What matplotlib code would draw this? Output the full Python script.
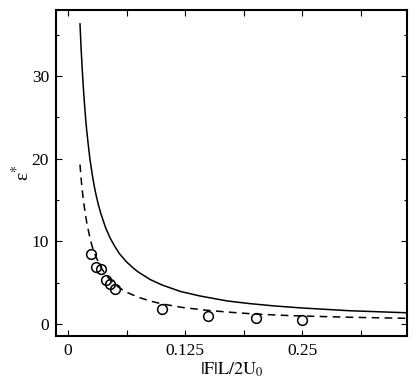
import matplotlib
matplotlib.use("Agg")
import matplotlib.pyplot as plt
from matplotlib.ticker import MultipleLocator, FixedLocator

plt.rcParams['font.family'] = ['Liberation Serif', 'DejaVu Serif']
plt.rcParams['mathtext.fontset'] = 'stix'

# Solid curve
solid_x = [0.0128, 0.014, 0.015, 0.0162, 0.0175, 0.019, 0.02, 0.022, 0.0235, 0.026, 0.028,
           0.03, 0.0325, 0.035, 0.04, 0.045, 0.05, 0.055, 0.0627, 0.07,
           0.075, 0.0876, 0.1, 0.12, 0.141, 0.17, 0.194, 0.22, 0.25, 0.3, 0.362]
solid_y = [36.3, 33.3, 31.2, 28.9, 26.8, 24.6, 23.4, 21.3, 19.9, 18.0, 16.7,
           15.6, 14.4, 13.4, 11.7, 10.4, 9.4, 8.5, 7.5, 6.75,
           6.3, 5.4, 4.75, 3.95, 3.4, 2.8, 2.48, 2.2, 1.95, 1.62, 1.37]

# Dashed curve
dash_x = [0.0128, 0.014, 0.015, 0.0162, 0.0175, 0.019, 0.02, 0.0225, 0.0253, 0.0275, 0.03,
          0.035, 0.04, 0.045, 0.05, 0.056, 0.0627,
          0.075, 0.0876, 0.1, 0.123, 0.15, 0.177, 0.2, 0.23, 0.25, 0.3, 0.362]
dash_y = [19.3, 17.6, 16.4, 15.2, 14.1, 13.0, 12.3, 10.9, 9.6, 8.8, 8.1,
          6.9, 6.0, 5.35, 4.8, 4.3, 3.85,
          3.25, 2.8, 2.45, 2.0, 1.65, 1.4, 1.22, 1.06, 0.98, 0.83, 0.7]

# Circles (data points)
pts_x = [0.0246, 0.0299, 0.0353, 0.0402, 0.0452, 0.0502, 0.1004, 0.150, 0.2005, 0.250]
pts_y = [8.5, 6.9, 6.7, 5.3, 4.8, 4.3, 1.8, 1.0, 0.7, 0.5]

xticks = [0, 0.125, 0.25]
xtick_labels = ['0', '0.125', '0.25']
yticks = [0, 10, 20, 30]

fig = plt.figure(figsize=(4.15, 3.89), dpi=100)
ax = fig.add_axes([0.135, 0.136, 0.846, 0.838])

ax.plot(solid_x, solid_y, color='black', lw=1.1)
ax.plot(dash_x, dash_y, color='black', lw=1.1, dashes=(5, 3.5))
ax.plot(pts_x, pts_y, 'o', mfc='none', mec='black', mew=1.1, ms=7)

ax.set_xlim(-0.0128, 0.3622)
ax.set_ylim(-1.45, 37.97)
ax.set_xticks(xticks)
ax.set_xticklabels(xtick_labels)
ax.xaxis.set_minor_locator(FixedLocator([0.0625, 0.1875, 0.3125]))
ax.set_yticks(yticks)
ax.yaxis.set_minor_locator(MultipleLocator(5))

ax.tick_params(which='both', direction='in', top=True, right=True, labelsize=12.5, width=0.8)
ax.tick_params(which='major', length=4, pad=5)
ax.tick_params(which='minor', length=2.5)
ax.tick_params(axis='x', which='minor', length=4)

for s in ax.spines.values():
    s.set_linewidth(1.5)

ax.set_xlabel(r'$|\mathrm{F}|\mathrm{L}/2\mathrm{U}_0$', fontsize=13, labelpad=1)
ax.set_ylabel('ε$^{*}$', fontsize=14, labelpad=-1)

fig.savefig('out.png', dpi=100)
